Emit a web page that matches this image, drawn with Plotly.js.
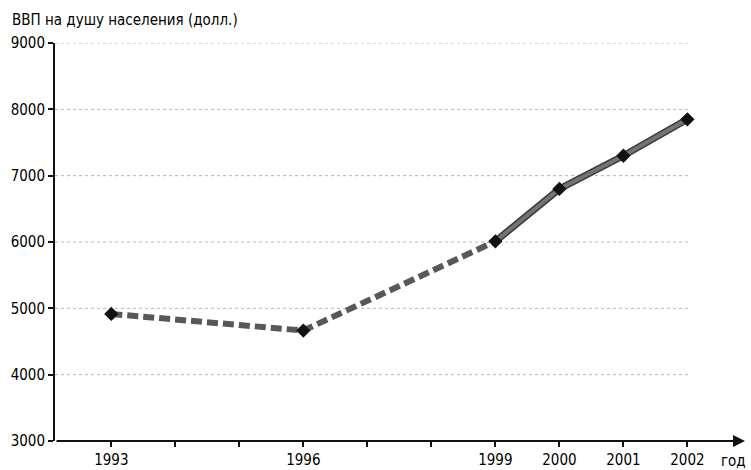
<!DOCTYPE html>
<html>
<head>
<meta charset="utf-8">
<script src="https://cdn.plot.ly/plotly-3.0.1.min.js"></script>
<style>html,body{margin:0;padding:0;background:#fff;}#chart{width:751px;height:470px;}</style>
</head>
<body>
<div id="chart"></div>
<script>
const years = [1993, 1996, 1999, 2000, 2001, 2002];
const gdp = [4915, 4665, 6010, 6800, 7300, 7850];
const tickYears = [1993, 1994, 1995, 1996, 1997, 1998, 1999, 2000, 2001, 2002];
const tickLabels = ['1993', '', '', '1996', '', '', '1999', '2000', '2001', '2002'];
const yTicks = [3000, 4000, 5000, 6000, 7000, 8000, 9000];
const gridValues = [4000, 5000, 6000, 7000, 8000, 9000];
const titleText = 'ВВП на душу населения (долл.)';
const xAxisLabel = 'год';

const FONT = '"Liberation Sans Narrow", "Arial Narrow", "DejaVu Sans Condensed", sans-serif';
const xMin = 1992.12, xMax = 2002.9;

// dashed part: up to 1999; solid part: from 1999
const splitIdx = years.indexOf(1999);
const dashX = years.slice(0, splitIdx + 1), dashY = gdp.slice(0, splitIdx + 1);
const solidX = years.slice(splitIdx), solidY = gdp.slice(splitIdx);

const traces = [
  {x: dashX, y: dashY, mode: 'lines', line: {color: '#585858', width: 6, dash: '11px,5px'}, hoverinfo: 'skip'},
  {x: solidX, y: solidY, mode: 'lines', line: {color: '#3a3a3a', width: 7}, hoverinfo: 'skip'},
  {x: solidX, y: solidY, mode: 'lines', line: {color: '#737373', width: 4}, hoverinfo: 'skip'},
  {x: years, y: gdp, mode: 'markers', marker: {symbol: 'diamond', size: 11, color: '#111'}, hoverinfo: 'skip'}
];

const shapes = gridValues.map(v => ({
  type: 'line', xref: 'x', yref: 'y', x0: xMin, x1: 2002.04, y0: v, y1: v,
  line: {color: '#b4b4b4', width: 1, dash: 'dot'}, layer: 'below'
}));

const layout = {
  width: 751, height: 470,
  margin: {l: 55, r: 6, t: 43, b: 29},
  paper_bgcolor: '#fff', plot_bgcolor: '#fff',
  showlegend: false,
  font: {family: FONT, size: 15, color: '#000'},
  xaxis: {
    range: [xMin, xMax], showgrid: false, zeroline: false,
    tickmode: 'array', tickvals: tickYears, ticktext: tickLabels,
    ticks: 'outside', ticklen: 5, tickwidth: 2, tickcolor: '#111',
    showline: false, tickfont: {family: FONT, size: 15, color: '#000'}
  },
  yaxis: {
    range: [3000, 9000], showgrid: false, zeroline: false,
    tickmode: 'array', tickvals: yTicks,
    ticks: 'outside', ticklen: 5, tickwidth: 2, tickcolor: '#111',
    showline: true, linecolor: '#111', linewidth: 2,
    tickfont: {family: FONT, size: 15, color: '#000'}
  },
  shapes: shapes,
  annotations: [
    {xref: 'paper', yref: 'paper', x: -0.0655, y: 1.058, xanchor: 'left', yanchor: 'middle',
     text: titleText, showarrow: false, font: {family: FONT, size: 15, color: '#000'}},
    {xref: 'paper', yref: 'paper', x: 1.005, y: -0.05, xanchor: 'right', yanchor: 'middle',
     text: xAxisLabel, showarrow: false, font: {family: FONT, size: 15, color: '#000'}},
    {x: xMax, y: 3000, xref: 'x', yref: 'y', axref: 'x', ayref: 'y', ax: xMin, ay: 3000,
     text: '', showarrow: true, arrowhead: 2, arrowsize: 1.2, arrowwidth: 2, arrowcolor: '#111', standoff: 0}
  ]
};

Plotly.newPlot('chart', traces, layout, {staticPlot: true, displayModeBar: false});
</script>
</body>
</html>
